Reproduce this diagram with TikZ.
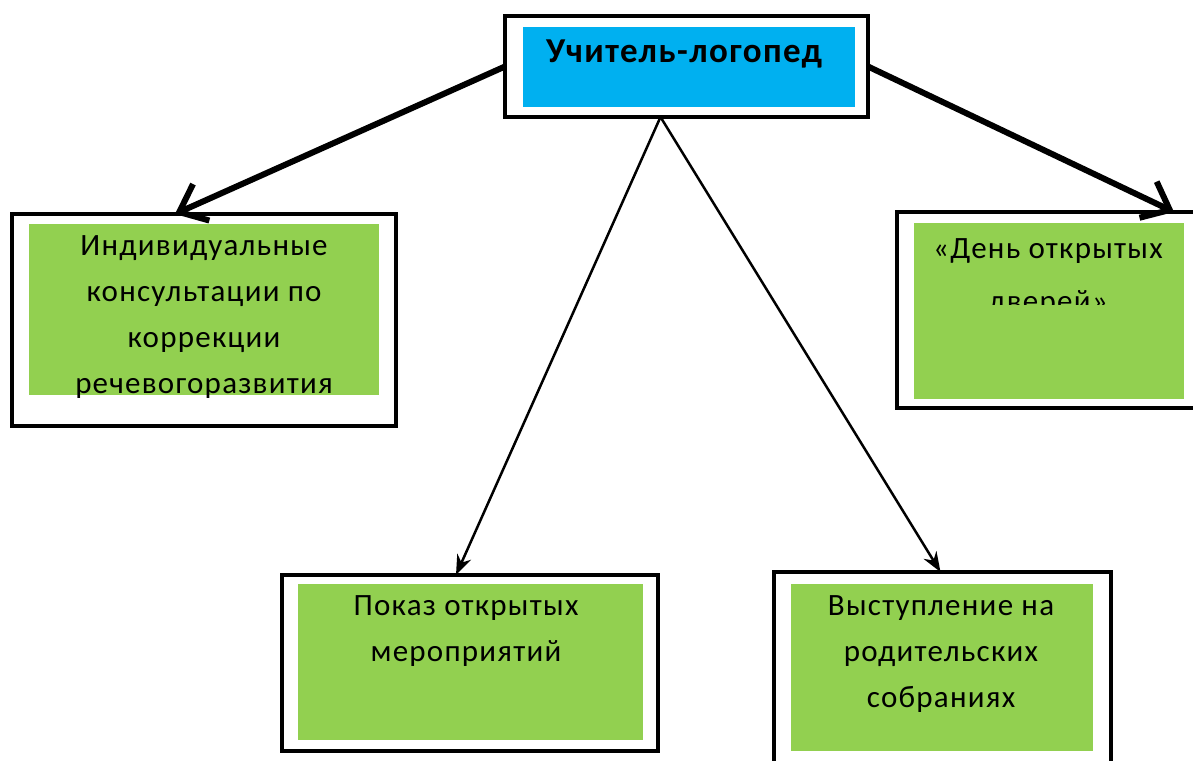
\documentclass[tikz,border=0pt]{standalone}
\usepackage{fontspec}
\setmainfont{Carlito}[LetterSpace=4]
\usetikzlibrary{arrows.meta,calc}
\definecolor{boxblue}{HTML}{00B0F0}
\definecolor{boxgreen}{HTML}{92D050}
\begin{document}
\begin{tikzpicture}[x=1pt,y=-1pt,
  outer/.style={draw=black,line width=4pt,fill=white,inner sep=0pt,outer sep=0pt,anchor=north west},
  inner/.style={fill=#1,draw=none,inner sep=0pt,outer sep=0pt,anchor=north west},
  txt/.style={font=\fontsize{31}{46}\selectfont,align=center,inner sep=0pt,anchor=base},
  thick arrow/.style={line width=6pt,-{Straight Barb[length=24pt,width=40pt,line width=6pt]}},
  thin arrow/.style={line width=2.5pt,-{Stealth[length=20pt,width=15pt]}}]
\useasboundingbox (0,0) rectangle (1193,760);
\clip (0,0) rectangle (1193,760);
% boxes
\node[outer,minimum width=363pt,minimum height=101pt] (top) at (505,16) {};
\node[inner=boxblue,minimum width=332pt,minimum height=80pt] (topin) at (523,27) {};
\node[outer,minimum width=384pt,minimum height=212pt] (left) at (12,214) {};
\node[inner=boxgreen,minimum width=350pt,minimum height=171pt] (leftin) at (29,224) {};
\node[outer,minimum width=308pt,minimum height=196pt] (right) at (897,212) {};
\node[inner=boxgreen,minimum width=270pt,minimum height=176pt] (rightin) at (914,223) {};
\node[outer,minimum width=376pt,minimum height=176pt] (bl) at (282,575) {};
\node[inner=boxgreen,minimum width=345pt,minimum height=156pt] (blin) at (298,584) {};
\node[outer,minimum width=337pt,minimum height=203pt] (br) at (774,572) {};
\node[inner=boxgreen,minimum width=302pt,minimum height=167pt] (brin) at (791,584) {};
% texts (anchor base = baseline of the last line)
\node[txt,font=\fontsize{35}{46}\selectfont\bfseries] (toptxt) at (684,63) {Учитель-логопед};
\node[txt] (lefttxt) at (204,393) {Индивидуальные\\консультации по\\коррекции\\речевогоразвития};
\begin{scope}
\clip (914,223) rectangle (1184,304);
\node[txt] (righttxt) at (1048,311) {«День открытых\\[7pt]дверей»};
\end{scope}
\node[txt] (bltxt) at (466,661) {Показ открытых\\мероприятий};
\node[txt] (brtxt) at (941,707) {Выступление на\\родительских\\собраниях};
% connectors
\draw[thick arrow] (top.west) -- ([xshift=-29pt]left.north);
\draw[thick arrow] (top.east) -- ([xshift=123pt]right.north);
\coordinate (fork) at ([xshift=-26pt]top.south);
\draw[thin arrow] (fork) -- ([xshift=-14pt]bl.north);
\draw[thin arrow] (fork) -- ([xshift=-2pt]br.north);
\end{tikzpicture}
\end{document}
